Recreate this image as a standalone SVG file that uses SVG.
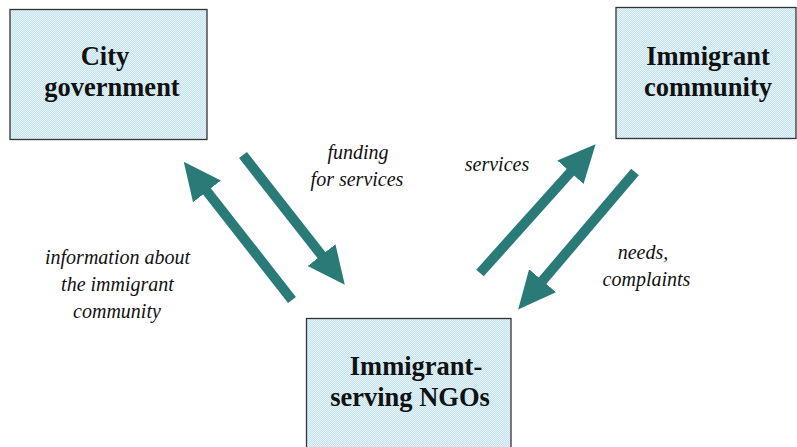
<svg xmlns="http://www.w3.org/2000/svg" width="797" height="447" viewBox="0 0 797 447">
<style>
.box{stroke:#333;stroke-width:1.3;fill:url(#mesh)}
.nt{font-family:"Liberation Serif","DejaVu Serif",serif;font-weight:bold;font-size:26.5px;fill:#111;text-anchor:middle}
.lb{font-family:"Liberation Serif","DejaVu Serif",serif;font-style:italic;font-size:20px;fill:#111;text-anchor:middle}
.ar{stroke:#2a7a78;stroke-width:10;fill:none;marker-end:url(#head)}
</style>
<defs>
<pattern id="mesh" width="2" height="2" patternUnits="userSpaceOnUse">
<rect width="2" height="2" fill="#c2e3ef"/>
<rect width="1" height="1" fill="#e6f4f9"/>
<rect x="1" y="1" width="1" height="1" fill="#e6f4f9"/>
</pattern>
<marker id="head" markerUnits="userSpaceOnUse" markerWidth="40" markerHeight="40" viewBox="0 -16 34 32" refX="2" refY="0" orient="auto">
<path d="M0,-15 L32,0 L0,15 Z" fill="#2a7a78"/>
</marker>
</defs>
<g id="city">
<rect class="box" x="10" y="9.5" width="197" height="130"/>
<text class="nt" x="105" y="65">City</text>
<text class="nt" x="112" y="96">government</text>
</g>
<g id="community">
<rect class="box" x="616" y="7.5" width="180" height="131"/>
<text class="nt" x="708" y="65">Immigrant</text>
<text class="nt" x="708" y="96">community</text>
</g>
<g id="ngos">
<rect class="box" x="306.5" y="318.5" width="204.5" height="140"/>
<text class="nt" x="416" y="375">Immigrant-</text>
<text class="nt" x="410" y="406">serving NGOs</text>
</g>
<g id="connectors">
<line class="ar" x1="292" y1="300" x2="205.5" y2="189.5"/>
<line class="ar" x1="243" y1="155" x2="323" y2="257"/>
<line class="ar" x1="480" y1="273" x2="572" y2="170.5"/>
<line class="ar" x1="635" y1="172" x2="541" y2="282.5"/>
</g>
<g id="labels">
<text class="lb" x="358" y="159">funding</text>
<text class="lb" x="357" y="186">for services</text>
<text class="lb" x="117.5" y="264">information about</text>
<text class="lb" x="117.5" y="291">the immigrant</text>
<text class="lb" x="117" y="318">community</text>
<text class="lb" x="497" y="171">services</text>
<text class="lb" x="643" y="259">needs,</text>
<text class="lb" x="646.5" y="286">complaints</text>
</g>
</svg>
